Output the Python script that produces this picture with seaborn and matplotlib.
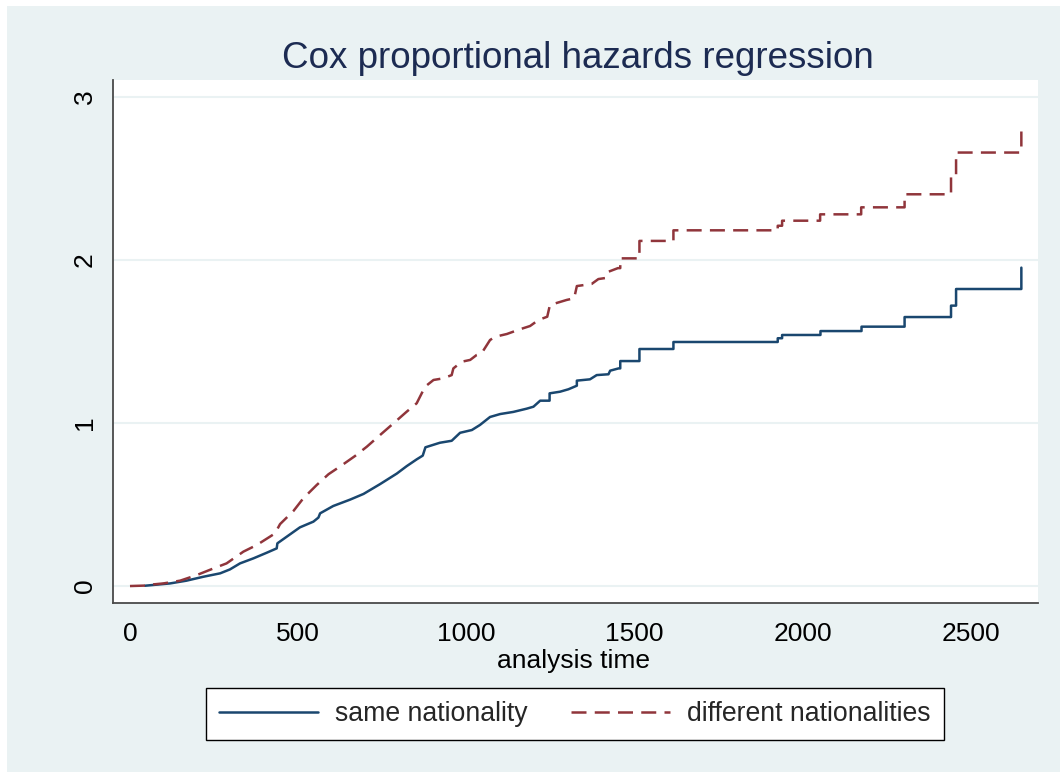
import numpy as np
import pandas as pd
import matplotlib
matplotlib.use("Agg")
import matplotlib.pyplot as plt
import seaborn as sns
from matplotlib.patches import Rectangle

# ---- data (vertices of the cumulative-hazard curves) ----
title = "Cox proportional hazards regression"
x_label = "analysis time"
series_names = ["same nationality", "different nationalities"]

same_t = [45, 119, 168, 218, 268, 297, 327, 367, 406, 436,
          438, 466, 505, 545, 560, 565, 604, 654, 694, 743,
          793, 822, 852, 870, 878, 921, 956, 981, 1016, 1040,
          1070, 1100, 1139, 1179, 1199, 1219, 1247, 1247, 1278, 1303,
          1328, 1328, 1367, 1387, 1422, 1427, 1452, 1457, 1457, 1514,
          1514, 1615, 1615, 1925, 1925, 1938, 1938, 2052, 2052, 2174,
          2174, 2302, 2302, 2440, 2440, 2455, 2455, 2649, 2649]
same_h = [0.002, 0.016, 0.033, 0.057, 0.078, 0.102, 0.139, 0.170, 0.204, 0.231,
          0.262, 0.303, 0.360, 0.395, 0.420, 0.446, 0.491, 0.530, 0.565, 0.625,
          0.690, 0.735, 0.777, 0.800, 0.851, 0.879, 0.891, 0.940, 0.957, 0.988,
          1.037, 1.055, 1.068, 1.088, 1.100, 1.137, 1.137, 1.182, 1.192, 1.207,
          1.229, 1.260, 1.268, 1.294, 1.299, 1.321, 1.335, 1.335, 1.380, 1.380,
          1.454, 1.454, 1.497, 1.497, 1.520, 1.520, 1.540, 1.540, 1.564, 1.564,
          1.591, 1.591, 1.650, 1.650, 1.720, 1.720, 1.822, 1.822, 1.953]

diff_t = [0, 47, 69, 99, 149, 198, 248, 287, 337, 377,
          416, 431, 446, 486, 515, 555, 590, 629, 669, 704,
          743, 783, 822, 852, 877, 902, 931, 956, 961, 986,
          1011, 1030, 1045, 1070, 1085, 1120, 1159, 1189, 1214, 1240,
          1248, 1298, 1320, 1328, 1372, 1392, 1415, 1422, 1450, 1457,
          1457, 1514, 1514, 1615, 1615, 1925, 1925, 1938, 1938, 2051,
          2051, 2173, 2173, 2302, 2302, 2440, 2440, 2455, 2455, 2649,
          2649]
diff_h = [0.0, 0.003, 0.010, 0.016, 0.033, 0.067, 0.108, 0.139, 0.211, 0.252,
          0.303, 0.323, 0.380, 0.461, 0.538, 0.620, 0.686, 0.740, 0.798, 0.855,
          0.926, 0.998, 1.069, 1.121, 1.223, 1.264, 1.274, 1.294, 1.335, 1.376,
          1.387, 1.417, 1.428, 1.509, 1.529, 1.546, 1.575, 1.595, 1.632, 1.652,
          1.724, 1.755, 1.765, 1.840, 1.853, 1.883, 1.890, 1.928, 1.950, 1.950,
          2.010, 2.010, 2.117, 2.117, 2.182, 2.182, 2.210, 2.210, 2.241, 2.241,
          2.280, 2.280, 2.323, 2.323, 2.403, 2.403, 2.507, 2.507, 2.659, 2.659,
          2.828]

x_ticks = [0, 500, 1000, 1500, 2000, 2500]
y_ticks = [0, 1, 2, 3]

df = pd.concat([
    pd.DataFrame({"t": same_t, "h": same_h, "group": series_names[0]}),
    pd.DataFrame({"t": diff_t, "h": diff_h, "group": series_names[1]}),
], ignore_index=True)

# ---- style ----
BG = "#EAF2F3"
sns.set_theme(style="white")
plt.rcParams["font.family"] = ["Liberation Sans", "DejaVu Sans"]

fig = plt.figure(figsize=(10.6, 7.72), dpi=100, facecolor="white")
fig.patches.append(Rectangle((7 / 1060, 0), 1, 1 - 6 / 772, transform=fig.transFigure,
                             facecolor=BG, edgecolor="none", zorder=-10))

ax = fig.add_axes([113 / 1060, 1 - 603 / 772, (1037.5 - 113) / 1060, (603 - 80) / 772])
ax.set_facecolor("white")

palette = {series_names[0]: "#1A476F", series_names[1]: "#90353B"}
dashes = {series_names[0]: "", series_names[1]: (6, 3.3)}
sns.lineplot(data=df, x="t", y="h", hue="group", style="group",
             hue_order=series_names, style_order=series_names,
             palette=palette, dashes=dashes, estimator=None, sort=False,
             linewidth=1.8, legend=False, ax=ax, zorder=3)

ax.set_xlim(-50.5, 2697)
ax.set_ylim(-0.104, 3.104)
ax.set_xticks(x_ticks)
ax.set_yticks(y_ticks)
ax.set_xticklabels([str(v) for v in x_ticks], fontsize=19)
ax.set_yticklabels([str(v) for v in y_ticks], fontsize=19, rotation=90, va="center")
ax.yaxis.grid(True, color=BG, linewidth=1.5)
ax.xaxis.grid(False)
ax.set_axisbelow(True)

for s in ["top", "right"]:
    ax.spines[s].set_visible(False)
for s in ["left", "bottom"]:
    ax.spines[s].set_color("#4a4a4a")
    ax.spines[s].set_linewidth(1.3)

ax.tick_params(axis="both", which="major", direction="out", length=7.5, width=1.0,
               color="#333333", labelcolor="black")
ax.tick_params(axis="x", pad=6)
ax.tick_params(axis="y", pad=4)

ax.set_ylabel("")
ax.set_xlabel(x_label, fontsize=19, color="black")
ax.xaxis.set_label_coords(0.498, -0.088)
ax.xaxis.label.set_verticalalignment("top")

fig.text(578 / 1060, 1 - 68 / 772, title, fontsize=26.5, color="#1C2B52",
         ha="center", va="baseline")

handles = ax.get_lines()[:2]
leg = ax.legend(handles=handles, labels=series_names, loc="center",
                bbox_to_anchor=(575 / 1060, 1 - 714 / 772),
                bbox_transform=fig.transFigure, ncol=2, fontsize=19.2,
                frameon=True, fancybox=False, framealpha=1, edgecolor="black",
                handlelength=3.7, handletextpad=0.65, columnspacing=1.63,
                borderpad=0.5)
leg.get_frame().set_linewidth(1.0)
leg.get_frame().set_facecolor("white")

fig.savefig("out.png", dpi=100, facecolor=fig.get_facecolor())
